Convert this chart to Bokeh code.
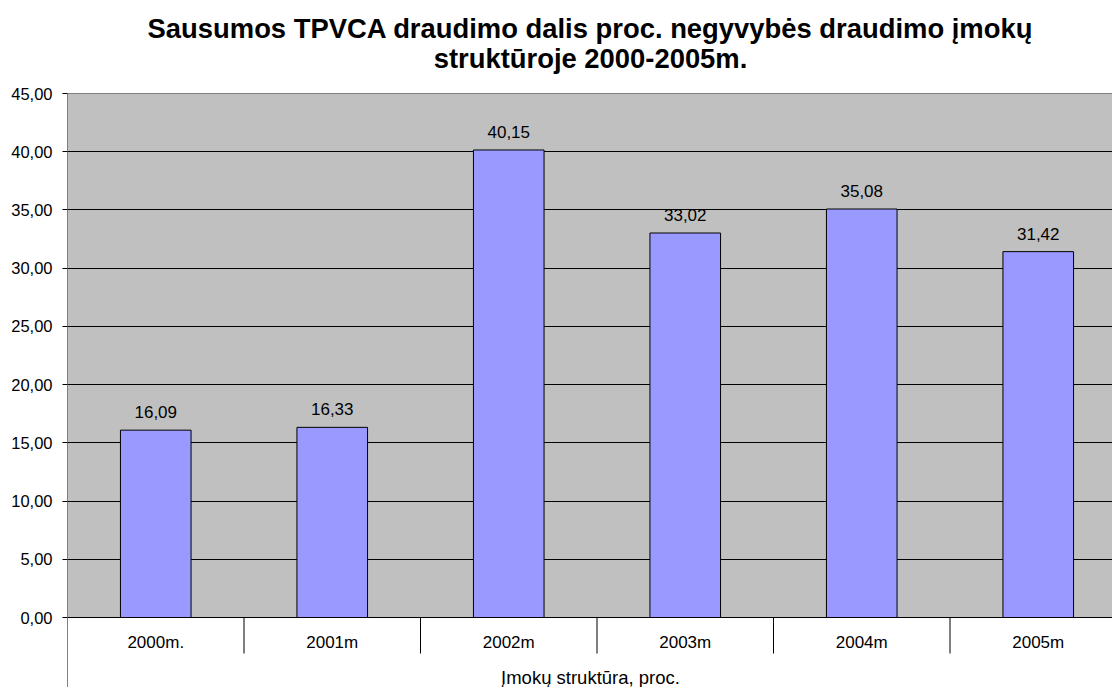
from bokeh.plotting import figure
from bokeh.models import ColumnDataSource, Range1d, FixedTicker
from bokeh.core.properties import value
from bokeh.embed import file_html
from bokeh.resources import INLINE

# ---- data ----
categories = ["2000m.", "2001m", "2002m", "2003m", "2004m", "2005m"]
shares = [16.09, 16.33, 40.15, 33.02, 35.08, 31.42]
y_ticks = [0, 5, 10, 15, 20, 25, 30, 35, 40, 45]
title_lines = ["Sausumos TPVCA draudimo dalis proc. negyvybės draudimo įmokų",
               "struktūroje 2000-2005m."]
x_title = "Įmokų struktūra, proc."

# ---- layout (pixel geometry of the page; figure sits at page origin) ----
W, H = 1112, 687
LEFT = 67                    # frame left at page x=67
FRAME_TOP_PAGE = 0
FRAME_BOTTOM_PAGE = H
ZERO_PX = 617                # page y of value 0
TOP_PX = 93                  # page y of value 45
PX_PER_UNIT = (ZERO_PX - TOP_PX) / 45.0
CAT_PX = 176.5
x_end = (W - LEFT) / CAT_PX


def py(page_y):
    return (ZERO_PX - page_y) / PX_PER_UNIT


def px(page_x):
    return (page_x - LEFT) / CAT_PX


y_start = py(FRAME_BOTTOM_PAGE)
y_end = py(FRAME_TOP_PAGE)

p = figure(width=W, height=H, output_backend="svg", toolbar_location=None,
           x_range=Range1d(0, x_end), y_range=Range1d(y_start, y_end),
           min_border_left=LEFT, min_border_right=0, min_border_top=0,
           min_border_bottom=0, background_fill_color="white",
           border_fill_color="white", outline_line_color=None)

font = "Liberation Sans"

# plot area background
p.quad(left=[0], right=[x_end + 1], bottom=[0], top=[max(y_ticks)],
       fill_color="#C0C0C0", line_color="#808080", line_width=1, level="underlay")

# grid
p.xgrid.visible = False
p.ygrid.ticker = FixedTicker(ticks=y_ticks[:-1])
p.ygrid.grid_line_color = "black"
p.ygrid.grid_line_width = 1

# y axis
yax = p.yaxis[0]
yax.ticker = FixedTicker(ticks=y_ticks)
yax.bounds = (y_start, max(y_ticks))
yax.axis_line_color = "#808080"
yax.major_tick_line_color = "black"
yax.major_tick_out = 5
yax.major_tick_in = 0
yax.minor_tick_line_color = None
yax.major_label_overrides = {t: f"{t:.2f}".replace(".", ",") for t in y_ticks}
yax.major_label_text_font = font
yax.major_label_text_font_size = "16.5px"
yax.major_label_text_color = "black"
yax.major_label_standoff = 10

p.xaxis.visible = False

# bars
centers = [i + 0.5 for i in range(len(categories))]
labels = [f"{v:.2f}".replace(".", ",") for v in shares]
src = ColumnDataSource(dict(x=centers, top=shares, lab=labels, cat=categories))
p.vbar(x="x", top="top", width=0.4, source=src, fill_color="#9999FF",
       line_color="black", line_width=1)

# value labels
p.text(x="x", y="top", text="lab", source=src, y_offset=-18,
       text_align="center", text_baseline="middle",
       text_font=value(font), text_font_size="17px", text_color="black")

# category axis (table style)
bounds = list(range(1, len(categories)))
p.segment(x0=bounds, x1=bounds, y0=[0] * len(bounds), y1=[py(653)] * len(bounds),
          line_color="black", line_width=1)
p.text(x="x", y=py(642), text="cat", source=src, text_align="center",
       text_baseline="middle", text_font=value(font), text_font_size="17px",
       text_color="black")
p.text(x=[px(590)], y=[py(676.5)], text=[x_title], text_align="center",
       text_baseline="middle", text_font=value(font), text_font_size="18.5px",
       text_color="black")

# title
p.text(x=[px(590), px(590)], y=[py(28), py(58)], text=title_lines,
       text_align="center", text_baseline="middle", text_font=value(font),
       text_font_size="27.4px", text_font_style="bold", text_color="black")

open("out.html", "w").write(file_html(p, INLINE))
